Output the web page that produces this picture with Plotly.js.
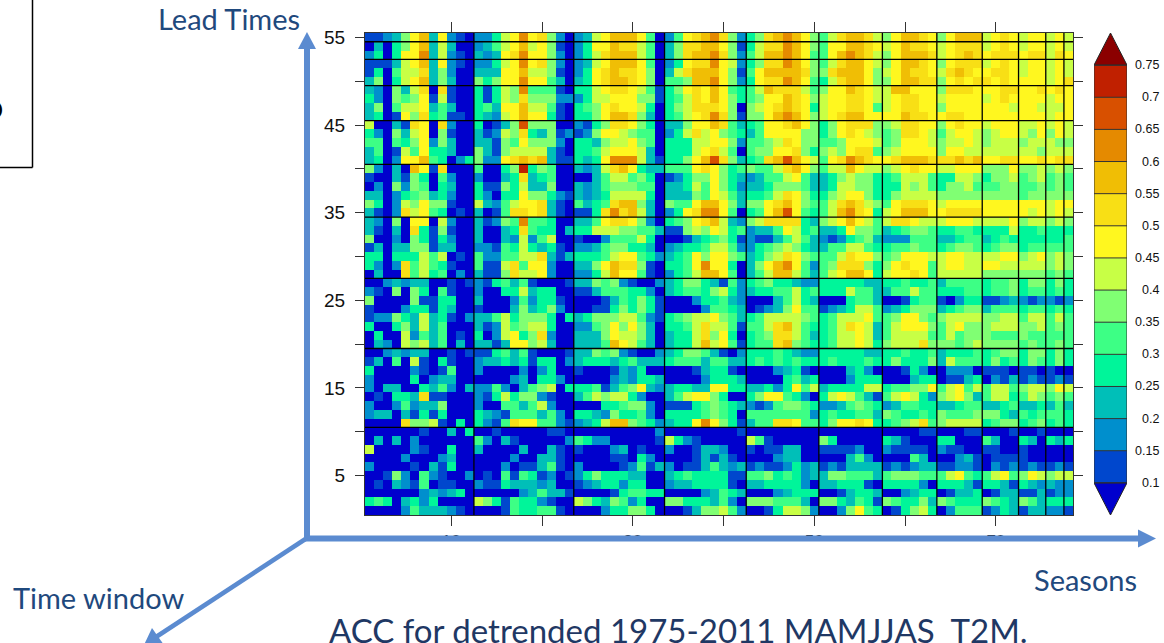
<!DOCTYPE html>
<html>
<head>
<meta charset="utf-8">
<script src="https://cdn.plot.ly/plotly-3.0.1.min.js"></script>
<style>html,body{margin:0;padding:0;background:#fff;overflow:hidden}#chart{width:1164px;height:643px}</style>
</head>
<body>
<div id="chart"></div>
<script>
// Colour level read for every cell: 0 = below 0.1, then one step per 0.05, e = above 0.75.
// One string per lead time, from 55 down to 1; blocks are separated by spaces.
var cellLevels = [
"112368a38210 22478b89620 2378aaa850 2589ab962 469aba86 579aa97 68aa98 68aaa 7898 788 78 7",
"030468a37300 23578a78610 2488a99750 3699aa861 4799ba86 588aa98 78a998 78999 7898 788 78 7",
"240488b37210 32389b88620 2479aaa750 369aab962 57aaba85 58aba97 68aaa9 789a9 8999 899 79 8",
"111378a38210 22478b89620 2378aaa850 24899b872 4699ba86 579aa87 68aa98 68999 7898 788 78 7",
"140577936200 33388a77610 2489a99860 379aaa861 58aaaa96 69aaa86 78a998 79a98 8998 788 78 7",
"360478a36300 64688b88530 3489aa9860 556aab862 4899ba85 479aa86 68aa99 68989 9898 888 78 9",
"320637909100 41476b55510 4478998751 46898a854 57a99975 688a987 7aa888 69998 8899 889 89 8",
"420656817100 41476966622 2477888661 45798a864 5688a986 7889987 789988 78888 7898 888 78 8",
"360577835300 45388a77510 4568988740 467999860 6789a984 7889985 789988 68888 8887 887 77 8",
"340186945110 43278a88410 4468aa9630 45789b961 668aba86 789aa88 88a998 89988 8888 888 78 8",
"700319809200 40136c66600 2146998640 33688a953 45889a86 4689996 679988 68988 7888 778 78 7",
"420637806100 31276943612 1268876550 247978654 35888866 4689876 569987 57887 6788 768 68 7",
"550546826300 33165866620 4436778650 444778862 55679866 5568887 568887 67787 6777 677 76 6",
"350175844300 63167777310 4457888730 444789750 56688964 6768995 678888 68877 7777 776 77 7",
"340288a54024 62289a9a311 4348bbb731 4468ac963 459aca87 589ba98 89aaa9 99a9a 8899 889 89 9",
"62030a819000 50046d46500 32379a8433 555898645 65579a86 577a877 678988 77888 6668 667 67 6",
"100316405200 20034934500 0035775640 124668643 23557853 3467664 457775 44776 4667 567 56 5",
"020626504300 41164733600 3235666550 334758642 33466653 3477664 447675 46675 5566 556 56 5",
"330245634200 42044866421 3234777740 333658753 44579864 4678864 467777 66666 6666 566 66 6",
"640276866100 73257889310 53459aa630 6558aa863 6689a865 579a976 589998 78888 8888 888 78 8",
"310297854010 30159989310 1149b9a730 2489bb850 458ac854 57ab984 78aaa8 89999 8888 878 78 7",
"320608807200 31265b55400 3358998620 45689a732 67999943 678a875 799877 78887 7778 677 67 6",
"310309416100 30034954403 4477766553 116768745 23358745 3348665 345665 44554 4447 445 44 4",
"600206414200 30032725700 1002555740 001345641 21135753 2124563 222555 33455 3454 444 44 5",
"130336613300 22154743410 2235664430 234457752 24567643 3557754 455655 45665 4566 455 55 5",
"440444757010 52255779313 4445788542 345868865 34679865 5579886 568887 78877 7788 678 67 6",
"420295754100 51179588200 3368a99610 4458b8840 368ab852 5699964 689885 78877 8877 777 67 6",
"030095745020 31169778200 2247a88510 2457aa850 357aa753 578aa84 788985 77777 6666 666 56 5",
"002323300101 21453510001 3365621002 346643152 45644322 4444433 445445 35555 4556 466 46 4",
"210606405100 20044734400 1135554420 345546742 34455745 4447553 355755 44455 4556 455 45 4",
"600006114400 30002524410 0001354641 000244532 00035743 0004553 001455 10244 1123 212 21 2",
"100024414300 10003634620 0011464641 000025543 01236855 1234775 234666 34566 3555 455 45 4",
"122643734102 33574666404 3466677521 456778653 45777765 4577785 568865 67777 6677 577 57 5",
"400463735000 31275677400 2256868630 445797751 5579a754 4579873 578886 57866 6777 667 56 5",
"040072535010 40278469200 3336877630 344796840 45699753 4577873 577775 57566 6555 655 55 5",
"032076735030 33138867300 3335a87530 3447a7851 4559a654 4577874 677796 66567 6666 565 56 5",
"002323300101 11453510001 3365621002 346653102 44454322 4444433 445445 34445 4566 466 46 4",
"130507104100 23343414402 3444345333 455535533 45454544 4544454 464446 37555 4645 465 46 4",
"400002101500 20000202400 1000132400 000134410 00023410 0003420 001420 02220 1110 110 10 0",
"200004023300 00002304420 0000232443 000024443 00004534 0002444 000344 01134 0213 121 12 1",
"203300435203 22520356704 4451356832 344338844 33424857 3444477 455668 57857 5775 677 68 7",
"010443911000 21474662100 3576774200 357886400 46885420 4787531 578742 67863 5774 576 56 5",
"200252336000 20055357200 0004456620 111456543 21256654 2235654 235544 33455 3345 334 35 3",
"233031414000 43215553520 4432644520 444456540 55555552 4544553 654454 65556 6643 545 55 4",
"000096671040 42159885521 2347aa6542 3448b8641 35599855 4688984 456795 67777 4566 456 45 4",
"000000100304 00100000110 0000000002 000000001 00000000 0000000 000011 00011 0001 001 00 0",
"030302000000 52031000002 5422000001 742100000 75100000 6400000 431000 44000 5300 430 43 4",
"700002100400 30000300310 1000230100 200133200 10113300 1111200 211110 21100 1100 100 00 0",
"000020002300 00002003310 0000110420 000131310 00023300 0003520 000530 00231 0111 100 00 0",
"200001031400 00020113510 2000012513 201135323 12112423 1213333 121233 11221 0212 121 12 1",
"001620521002 01051541201 2464443300 345444411 55645423 3665553 566655 57854 5785 687 67 7",
"010321501100 21143332300 1234424400 233444410 33444420 3344410 444420 44431 4431 432 32 2",
"000000232340 00000235331 0000145544 000023543 00023444 0013443 002344 01334 0133 113 12 2",
"454034240000 76415442100 7643652400 664443520 66655530 6643541 654463 65444 6543 653 44 4",
"000025333210 00015445510 0002446640 001366752 00147762 0026854 014674 02555 1243 133 22 1"
];
var levelColors = ["#0000CD","#0047CD","#008FCD","#00BFB8","#00F59A","#3DFF85","#80FF73","#C8FF45","#FFF71F","#F8DF15","#F0BE05","#E58A00","#D85000","#C02000","#8B0000"];
var colorbarValues = [0.1,0.15,0.2,0.25,0.3,0.35,0.4,0.45,0.5,0.55,0.6,0.65,0.7,0.75];
var colorbarLabels = ["0.1","0.15","0.2","0.25","0.3","0.35","0.4","0.45","0.5","0.55","0.6","0.65","0.7","0.75"];
var seasonBlocks = [12,11,10,9,8,7,6,5,4,3,2,1];
var leadBlocks = [10,9,8,7,6,5,4,3,2,1];
var seasonTicks = [10,20,30,40,50,60,70];
var seasonTickText = ["10","","30","","50","","70"];
var leadTicks = [5,10,15,20,25,30,35,40,45,50,55];
var leadTickText = ["5","","15","","25","","35","","45","","55"];

var zMin = 0.05, zMax = 0.8, band = 0.05;
var nRows = cellLevels.length;
var nCols = seasonBlocks.reduce(function(a,b){return a+b;},0);
var xs = [], ys = [], z = [];
for (var i=1;i<=nCols;i++) xs.push(i);
for (var j=1;j<=nRows;j++) ys.push(j);
for (var r=nRows-1;r>=0;r--) {
  var s = cellLevels[r].replace(/ /g,'');
  if (s.length !== nCols) throw new Error('row for lead '+(nRows-r)+' has '+s.length);
  z.push(s.split('').map(function(ch){ return zMin + band*(parseInt(ch,16)+0.5); }));
}
var scale = [];
levelColors.forEach(function(c,i){
  scale.push([i/levelColors.length,c]);
  scale.push([(i+1)/levelColors.length,c]);
});

// block separator lines
var sepX = [], sepY = [], edge = 0.5;
seasonBlocks.forEach(function(n){
  edge += n;
  if (edge < nCols+0.5) { sepX.push(edge,edge,null); sepY.push(0.5,nRows+0.5,null); }
});
edge = 0.5;
leadBlocks.forEach(function(n){
  edge += n;
  if (edge < nRows+0.5) { sepX.push(0.5,nCols+0.5,null); sepY.push(edge,edge,null); }
});

// colour bar pieces
var barZ = [];
for (var k=0;k<colorbarValues.length-1;k++) barZ.push([(colorbarValues[k]+colorbarValues[k+1])/2]);
var barLinesX = [], barLinesY = [];
colorbarValues.forEach(function(v){ barLinesX.push(0,1,null); barLinesY.push(v,v,null); });
var vLow = colorbarValues[0], vHigh = colorbarValues[colorbarValues.length-1];

var traces = [
  {type:'heatmap', x:xs, y:ys, z:z, zmin:zMin, zmax:zMax, colorscale:scale, showscale:false, hoverongaps:false},
  {type:'scatter', mode:'lines', x:sepX, y:sepY, line:{color:'#000',width:1.3}, hoverinfo:'skip', showlegend:false},
  {type:'heatmap', xaxis:'x2', yaxis:'y2', x:[0,1], y:colorbarValues, z:barZ, zmin:zMin, zmax:zMax, colorscale:scale, showscale:false},
  {type:'scatter', mode:'lines', xaxis:'x2', yaxis:'y2', x:[0,0.5,1,0], y:[vHigh,zMax,vHigh,vHigh], fill:'toself', fillcolor:levelColors[14], line:{color:'#222',width:1}, showlegend:false},
  {type:'scatter', mode:'lines', xaxis:'x2', yaxis:'y2', x:[0,0.5,1,0], y:[vLow,zMin,vLow,vLow], fill:'toself', fillcolor:levelColors[0], line:{color:'#222',width:1}, showlegend:false},
  {type:'scatter', mode:'lines', xaxis:'x2', yaxis:'y2', x:barLinesX, y:barLinesY, line:{color:'#333',width:1}, showlegend:false},
  {type:'scatter', mode:'lines', xaxis:'x2', yaxis:'y2', x:[0,0,null,1,1], y:[vLow,vHigh,null,vLow,vHigh], line:{color:'#333',width:1}, showlegend:false}
];

// pixel helpers for page decoration
var L=365, T=33, R=1127, B=515;
function X(px){ return (px-L)/(R-L); }
function Y(py){ return (B-py)/(B-T); }
function P(pts){ return pts.map(function(p,i){ return (i?'L':'M')+X(p[0]).toFixed(5)+' '+Y(p[1]).toFixed(5); }).join(' ')+' Z'; }
var blue = '#5B8BD0';
var shapes = [
  {type:'rect', xref:'paper', yref:'paper', x0:X(330), x1:X(1150), y0:Y(541), y1:Y(565), fillcolor:'#fff', line:{width:0}, layer:'above'},
  {type:'line', xref:'paper', yref:'paper', x0:X(307), x1:X(307), y0:Y(540), y1:Y(48), line:{color:blue,width:6}, layer:'above'},
  {type:'path', xref:'paper', yref:'paper', path:P([[307,32],[316,49],[298,49]]), fillcolor:blue, line:{width:0}, layer:'above'},
  {type:'line', xref:'paper', yref:'paper', x0:X(305), x1:X(1140), y0:Y(538.5), y1:Y(538.5), line:{color:blue,width:6}, layer:'above'},
  {type:'path', xref:'paper', yref:'paper', path:P([[1156,538.5],[1138,529.5],[1138,547.5]]), fillcolor:blue, line:{width:0}, layer:'above'},
  {type:'line', xref:'paper', yref:'paper', x0:X(307), x1:X(156), y0:Y(538), y1:Y(637), line:{color:blue,width:4.5}, layer:'above'},
  {type:'path', xref:'paper', yref:'paper', path:P([[143,647],[152,628],[164,645]]), fillcolor:blue, line:{width:0}, layer:'above'},
  {type:'line', xref:'paper', yref:'paper', x0:X(32.5), x1:X(32.5), y0:Y(-2), y1:Y(167.5), line:{color:'#000',width:1.5}, layer:'above'},
  {type:'line', xref:'paper', yref:'paper', x0:X(-2), x1:X(32.5), y0:Y(167.5), y1:Y(167.5), line:{color:'#000',width:1.5}, layer:'above'}
];

function note(text,px,py,size,color,xa,fam){
  return {xref:'paper',yref:'paper',x:X(px),y:Y(py),text:text,showarrow:false,xanchor:xa||'left',yanchor:'middle',
    font:{family:fam||'Lato, sans-serif',size:size,color:color}};
}
var annotations = [
  note('Lead Times',156,18,29,'#1F497D'),
  note('Seasons',1032,579,29,'#1F497D'),
  note('Time window',11,597,29,'#1F497D'),
  note('ACC for detrended 1975-2011 MAMJJAS&nbsp;&nbsp;T2M.',327,630,33,'#1F3864'),
  note('O',5,110,26,'#000','right','Liberation Sans, sans-serif')
];
colorbarValues.forEach(function(v,i){
  annotations.push({xref:'paper',yref:'y2',x:X(1161),y:v,text:colorbarLabels[i],showarrow:false,xanchor:'right',yanchor:'middle',
    font:{family:'Liberation Sans, Arial, sans-serif',size:12.5,color:'#111'}});
});

var plotW = R-L;
var layout = {
  width:1164, height:643, autosize:false, paper_bgcolor:'#fff', plot_bgcolor:'rgba(0,0,0,0)',
  margin:{l:L, r:1164-R, t:T, b:643-B, pad:0}, showlegend:false,
  xaxis:{domain:[0,(1073-L)/plotW], range:[0.5,nCols+0.5], tickmode:'array', tickvals:seasonTicks, ticktext:seasonTickText,
    ticks:'outside', ticklen:10, tickwidth:1, tickcolor:'#333', showgrid:false, zeroline:false, showline:true, linecolor:'#333', linewidth:1, mirror:'allticks',
    ticklabelstandoff:1, tickfont:{family:'Liberation Sans, Arial, sans-serif',size:17,color:'#111'}},
  yaxis:{range:[0.5,nRows+0.5], tickmode:'array', tickvals:leadTicks, ticktext:leadTickText,
    ticks:'outside', ticklen:9, tickwidth:1, tickcolor:'#333', showgrid:false, zeroline:false, showline:true, linecolor:'#333', linewidth:1, mirror:'allticks',
    ticklabelstandoff:6, tickfont:{family:'Liberation Sans, Arial, sans-serif',size:19,color:'#111'}},
  xaxis2:{domain:[(1094-L)/plotW,1], range:[0,1], visible:false, anchor:'y2', fixedrange:true},
  yaxis2:{domain:[0,1], range:[zMin,zMax], visible:false, anchor:'x2', fixedrange:true},
  shapes:shapes, annotations:annotations
};
Plotly.newPlot('chart', traces, layout, {displayModeBar:false, staticPlot:true});
</script>
</body>
</html>
